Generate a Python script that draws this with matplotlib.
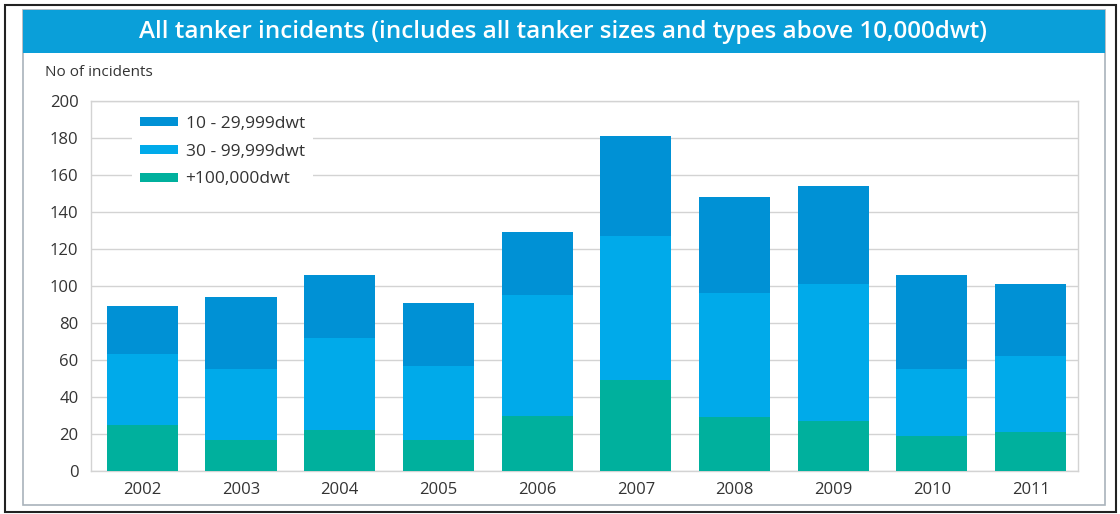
import matplotlib
matplotlib.use("Agg")
import matplotlib.pyplot as plt
from matplotlib.patches import Rectangle
import numpy as np

years = ['2002', '2003', '2004', '2005', '2006', '2007', '2008', '2009', '2010', '2011']
big = [25, 17, 22, 17, 30, 49, 29, 27, 19, 21]        # +100,000dwt
mid = [38, 38, 50, 40, 65, 78, 67, 74, 36, 41]        # 30 - 99,999dwt
small = [26, 39, 34, 34, 34, 54, 52, 53, 51, 39]      # 10 - 29,999dwt
labels = ['10 - 29,999dwt', '30 - 99,999dwt', '+100,000dwt']
yticks = [0, 20, 40, 60, 80, 100, 120, 140, 160, 180, 200]

c_small = '#0091d5'
c_mid = '#00aaea'
c_big = '#00b09d'
txt = '#333333'

W, H = 1120, 514
plt.rcParams['font.family'] = ['Open Sans', 'DejaVu Sans']
fig = plt.figure(figsize=(W / 100, H / 100), dpi=100)

def fx(px):
    return px / W

def fy(py):
    return 1 - py / H

# outer frame, panel and title bar (kept under the axes)
fig.patches.append(Rectangle((fx(5), fy(512)), fx(1111), (507) / H, transform=fig.transFigure,
                             fill=False, edgecolor='#222222', linewidth=1.5, zorder=-3))
fig.patches.append(Rectangle((fx(23), fy(505)), fx(1082), (495) / H, transform=fig.transFigure,
                             facecolor='white', edgecolor='#a9b3bb', linewidth=1.2, zorder=-2))
fig.patches.append(Rectangle((fx(23), fy(53)), fx(1082), (43) / H, transform=fig.transFigure,
                             facecolor='#0a9fd9', edgecolor='none', zorder=-1))
fig.text(fx(563), fy(32), 'All tanker incidents (includes all tanker sizes and types above 10,000dwt)',
         color='white', fontsize=17.5, fontweight='semibold', ha='center', va='center')
fig.text(fx(45), fy(73), 'No of incidents', color=txt, fontsize=11, ha='left', va='center')

ax = fig.add_axes([fx(91), fy(471), fx(987), 370 / H])
ax.set_zorder(2)
x = np.arange(len(years))
bw = 0.72
b_big = np.array(big)
b_mid = b_big + np.array(mid)
h3 = ax.bar(x, small, bw, bottom=b_mid, color=c_small, zorder=3, label=labels[0])
h2 = ax.bar(x, mid, bw, bottom=b_big, color=c_mid, zorder=3, label=labels[1])
h1 = ax.bar(x, big, bw, color=c_big, zorder=3, label=labels[2])

ax.set_xlim(-0.52, 9.48)
ax.set_ylim(0, 200)
ax.set_yticks(yticks)
ax.set_xticks(x)
ax.set_xticklabels(years)
ax.tick_params(axis='both', length=0, labelsize=12, colors=txt)
ax.tick_params(axis='y', pad=9)
ax.tick_params(axis='x', pad=8)
ax.grid(axis='y', color='#d3d3d3', linewidth=1, zorder=0)
for s in ax.spines.values():
    s.set_color('#d3d3d3')
    s.set_linewidth(1)

leg = ax.legend(handles=[h3, h2, h1], loc='upper left', bbox_to_anchor=(0.036, 0.995),
                fontsize=12.5, frameon=True, facecolor='white', edgecolor='none', framealpha=1,
                handlelength=2.2, handleheight=0.42, handletextpad=0.45, labelspacing=0.68,
                borderpad=0.45, borderaxespad=0.3, fancybox=False)
for t in leg.get_texts():
    t.set_color(txt)
leg.set_zorder(5)

fig.savefig('out.png', dpi=100)
